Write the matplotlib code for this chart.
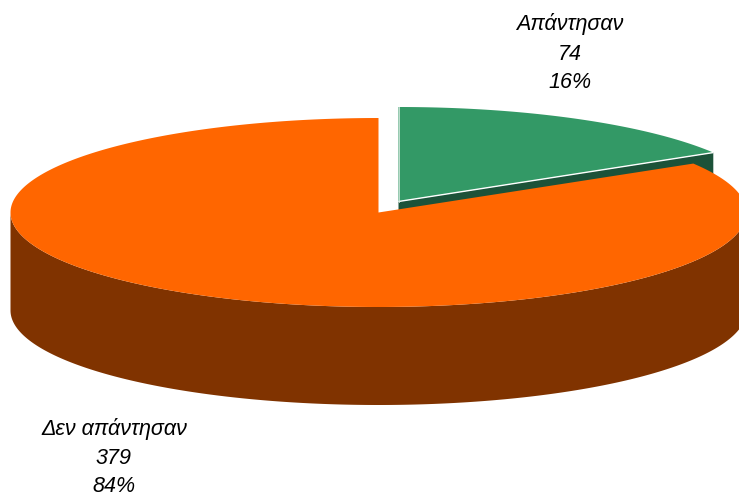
import numpy as np
import matplotlib
matplotlib.use("Agg")
import matplotlib.pyplot as plt

categories = ["Απάντησαν", "Δεν απάντησαν"]
values = [74, 379]
percents = ["16%", "84%"]
top_colors = ["#339966", "#FF6600"]
side_colors = ["#1C5239", "#803300"]

W, H = 739, 496
RX, RY, DEPTH = 368, 94.5, 98
CENTERS = [(398.5, 201.5), (378.5, 212.5)]
LABEL_X = [570, 114]
LABEL_Y = [[24, 54, 83], [429, 458, 487]]

fig = plt.figure(figsize=(W / 100, H / 100), dpi=100)
ax = fig.add_axes([0, 0, 1, 1])
ax.set_xlim(0, W)
ax.set_ylim(H, 0)
ax.axis("off")


def rim(c, a0, a1, n=300):
    a = np.linspace(a0, a1, n)
    return c[0] + RX * np.sin(a), c[1] - RY * np.cos(a)


fracs = np.cumsum([0] + values) / sum(values) * 2 * np.pi

# green slice: cut face, then top
c = CENTERS[0]
x, y = rim(c, fracs[0], fracs[1])
ax.fill([c[0], x[-1], x[-1], c[0]],
        [c[1], y[-1], y[-1] + DEPTH, c[1] + DEPTH],
        color=side_colors[0], lw=0, zorder=1)
ax.fill(np.r_[c[0], x], np.r_[c[1], y], color=top_colors[0], lw=0, zorder=2)
ax.plot([c[0], x[-1]], [c[1], y[-1]], color="white", lw=1.0, zorder=3,
        solid_capstyle="butt")
ax.plot([c[0], c[0]], [c[1], y[0]], color="#D5E8DE", lw=0.6, zorder=3)

# orange slice: outer wall, then top
c = CENTERS[1]
x, y = rim(c, max(fracs[1], np.pi / 2), min(fracs[2], 3 * np.pi / 2))
ax.fill(np.r_[x, x[::-1]], np.r_[y, y[::-1] + DEPTH],
        color=side_colors[1], lw=0, zorder=4)
x, y = rim(c, fracs[1], fracs[2])
ax.fill(np.r_[c[0], x], np.r_[c[1], y], color=top_colors[1], lw=0, zorder=5)

for i, name in enumerate(categories):
    for line, ypos in zip([name, str(values[i]), percents[i]], LABEL_Y[i]):
        ax.text(LABEL_X[i], ypos, line, ha="center", va="center",
                family="Liberation Sans", style="italic", fontsize=15.5,
                color="black", zorder=6)

fig.savefig("out.png", dpi=100, facecolor="white")
